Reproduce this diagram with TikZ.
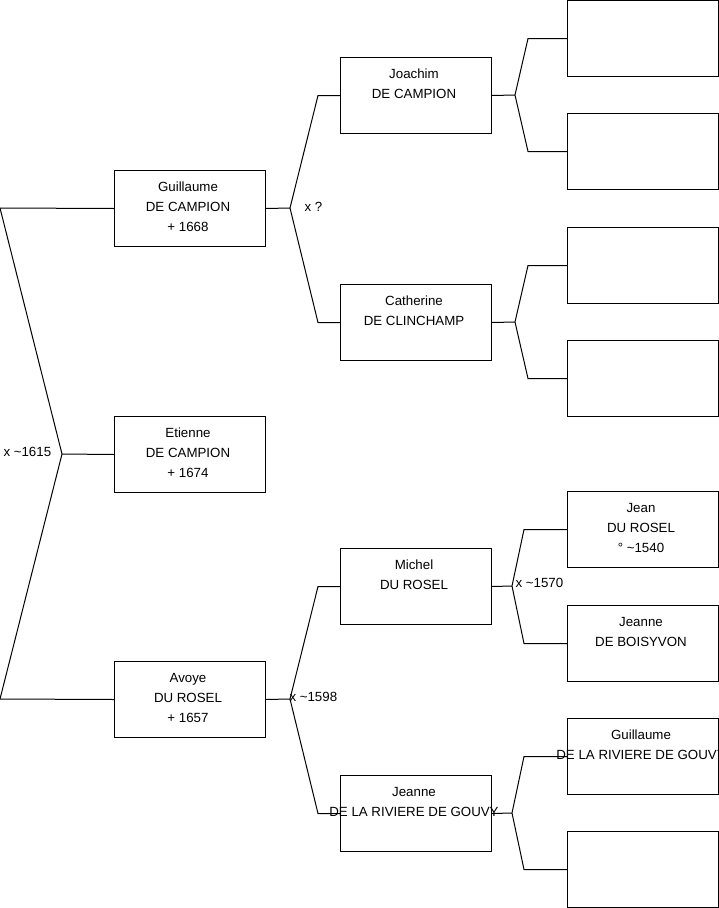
\documentclass[tikz,border=0pt]{standalone}
\usepackage{fontspec}
\setmainfont{Liberation Sans}
\begin{document}
\begin{tikzpicture}[x=1pt,y=-1pt,line width=1pt,
  box/.style={draw, minimum width=151pt, minimum height=76pt, inner sep=0pt, anchor=north west},
  txt/.style={anchor=north, inner sep=0pt, align=center, font=\fontsize{13.3}{20}\selectfont},
  lbl/.style={anchor=base west, inner sep=0pt, font=\fontsize{13.3}{20}\selectfont}]
\clip (0,0) rectangle (719,908);
\fill[white] (0,0) rectangle (719,908);
% generation 1
\node[box] (g) at (114,170) {};
\node[box] (e) at (114,416) {};
\node[box] (a) at (114,661) {};
% generation 2
\node[box] (j) at (340,57) {};
\node[box] (c) at (340,284) {};
\node[box] (m) at (340,548) {};
\node[box] (jr) at (340,775) {};
% generation 3
\node[box] (r1) at (567,0) {};
\node[box] (r2) at (567,113) {};
\node[box] (r3) at (567,227) {};
\node[box] (r4) at (567,340) {};
\node[box] (r5) at (567,491) {};
\node[box] (r6) at (567,605) {};
\node[box] (r7) at (567,718) {};
\node[box] (r8) at (567,831) {};
% texts
\node[txt] (gt) at ([xshift=-2pt,yshift=-10.7pt]g.north) {\rule{0pt}{10pt}Guillaume\\DE CAMPION\\+ 1668};
\node[txt] (et) at ([xshift=-2pt,yshift=-10.7pt]e.north) {\rule{0pt}{10pt}Etienne\\DE CAMPION\\+ 1674};
\node[txt] (at) at ([xshift=-2pt,yshift=-10.7pt]a.north) {\rule{0pt}{10pt}Avoye\\DU ROSEL\\+ 1657};
\node[txt] (jt) at ([xshift=-2pt,yshift=-10.7pt]j.north) {\rule{0pt}{10pt}Joachim\\DE CAMPION};
\node[txt] (ct) at ([xshift=-2pt,yshift=-10.7pt]c.north) {\rule{0pt}{10pt}Catherine\\DE CLINCHAMP};
\node[txt] (mt) at ([xshift=-2pt,yshift=-10.7pt]m.north) {\rule{0pt}{10pt}Michel\\DU ROSEL};
\node[txt] (jrt) at ([xshift=-2pt,yshift=-10.7pt]jr.north) {\rule{0pt}{10pt}Jeanne\\DE LA RIVIERE DE GOUVY};
\node[txt] (r5t) at ([xshift=-2pt,yshift=-10.7pt]r5.north) {\rule{0pt}{10pt}Jean\\DU ROSEL\\° \textasciitilde1540};
\node[txt] (r6t) at ([xshift=-2pt,yshift=-10.7pt]r6.north) {\rule{0pt}{10pt}Jeanne\\DE BOISYVON};
\node[txt] (r7t) at ([xshift=-2pt,yshift=-10.7pt]r7.north) {\rule{0pt}{10pt}Guillaume\\DE LA RIVIERE DE GOUVY};
% junctions
\coordinate (L0a) at (0,208);
\coordinate (L0b) at (0,699);
\coordinate (J0) at (62,454);
\coordinate (J1) at (290,208);
\coordinate (J2) at (515,95);
\coordinate (J3) at (515,322);
\coordinate (J4) at (512,586);
\coordinate (J5) at (512,813);
\coordinate (J6) at (290,699);
% connectors
\draw (L0a) -- (g.west);
\draw (L0b) -- (a.west);
\draw (L0a) -- (J0) -- (L0b);
\draw (J0) -- (e.west);
\draw (g.east) -- (J1);
\draw (j.west) -- ([xshift=-22pt]j.west) -- (J1) -- ([xshift=-22pt]c.west) -- (c.west);
\draw (a.east) -- (J6);
\draw (m.west) -- ([xshift=-22pt]m.west) -- (J6) -- ([xshift=-22pt]jr.west) -- (jr.west);
\draw (j.east) -- (J2);
\draw (r1.west) -- ([xshift=-39pt]r1.west) -- (J2) -- ([xshift=-39pt]r2.west) -- (r2.west);
\draw (c.east) -- (J3);
\draw (r3.west) -- ([xshift=-39pt]r3.west) -- (J3) -- ([xshift=-39pt]r4.west) -- (r4.west);
\draw (m.east) -- (J4);
\draw (r5.west) -- ([xshift=-43pt]r5.west) -- (J4) -- ([xshift=-43pt]r6.west) -- (r6.west);
\draw (jr.east) -- (J5);
\draw (r7.west) -- ([xshift=-43pt]r7.west) -- (J5) -- ([xshift=-43pt]r8.west) -- (r8.west);
% labels
\node[lbl] (l0) at (3,456.6) {x \textasciitilde1615};
\node[lbl] (l1) at (304,211.6) {x ?};
\node[lbl] (l6) at (289,701.6) {x \textasciitilde1598};
\node[lbl] (l4) at (515,587.6) {x \textasciitilde1570};
\end{tikzpicture}
\end{document}
